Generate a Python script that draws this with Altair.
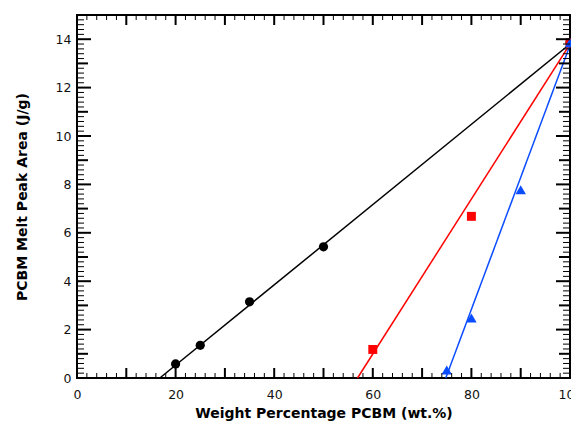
import altair as alt
import pandas as pd

# ---- data ----
black_x = [20, 25, 35, 50, 100]
black_y = [0.58, 1.35, 3.15, 5.42, 13.85]
red_x = [60, 80, 100]
red_y = [1.18, 6.68, 13.85]
blue_x = [75, 80, 90, 100]
blue_y = [0.33, 2.48, 7.78, 13.85]

# linear fits (end points of each fitted line)
black_fit_x = [16.8, 100]
black_fit_y = [0.0, 13.8]
red_fit_x = [56.9, 100]
red_fit_y = [0.0, 13.8]
blue_fit_x = [74.8, 100]
blue_fit_y = [0.0, 13.75]

x_labels = [0, 20, 40, 60, 80, 100]
y_labels = [0, 2, 4, 6, 8, 10, 12, 14]
x_major = [0, 10, 20, 30, 40, 50, 60, 70, 80, 90, 100]
x_minor = [v for v in range(0, 101, 2) if v % 10 != 0]
y_major = [0, 2, 4, 6, 8, 10, 12, 14]
y_mid = [1, 3, 5, 7, 9, 11, 13]
y_minor = [round(k * 0.2, 1) for k in range(0, 76) if k % 5 != 0]

W, H = 493, 363
FONT = "DejaVu Sans"

pts_black = pd.DataFrame({"x": black_x, "y": black_y})
pts_red = pd.DataFrame({"x": red_x, "y": red_y})
pts_blue = pd.DataFrame({"x": blue_x, "y": blue_y})
fit_black = pd.DataFrame({"x": black_fit_x, "y": black_fit_y})
fit_red = pd.DataFrame({"x": red_fit_x, "y": red_fit_y})
fit_blue = pd.DataFrame({"x": blue_fit_x, "y": blue_fit_y})

xs = alt.Scale(domain=[0, 100], nice=False, zero=False)
ys = alt.Scale(domain=[0, 15], nice=False, zero=False)

x_lab_axis = alt.Axis(
    orient="bottom", values=x_labels, ticks=False, tickSize=0, domain=False, grid=False,
    labelFont=FONT, labelFontSize=12.5, labelColor="#111", labelPadding=10,
    labelFlush=False, labelOverlap=False,
    title="Weight Percentage PCBM (wt.%)", titleFont=FONT, titleFontSize=14,
    titleFontWeight="bold", titleColor="black", titleX=W / 2, titleY=35,
    titleBaseline="middle", titleAlign="center", format="d",
)
y_lab_axis = alt.Axis(
    orient="left", values=y_labels, ticks=False, tickSize=0, domain=False, grid=False,
    labelFont=FONT, labelFontSize=12.5, labelColor="#111", labelPadding=6,
    labelFlush=False, labelOverlap=False,
    title="PCBM Melt Peak Area (J/g)", titleFont=FONT, titleFontSize=14,
    titleFontWeight="bold", titleColor="black", titleX=-55, titleY=H / 2,
    titleBaseline="middle", titleAlign="center", format="d",
)


def X():
    return alt.X("x:Q", scale=xs, axis=x_lab_axis)


def Y():
    return alt.Y("y:Q", scale=ys, axis=y_lab_axis)


layers = []
layers.append(alt.Chart(fit_black).mark_line(color="black", strokeWidth=1.5).encode(x=X(), y=Y()))
layers.append(alt.Chart(fit_red).mark_line(color="#ff0000", strokeWidth=1.5).encode(x=X(), y=Y()))
layers.append(alt.Chart(fit_blue).mark_line(color="#0a4cff", strokeWidth=1.5).encode(x=X(), y=Y()))
layers.append(alt.Chart(pts_black).mark_point(shape="circle", filled=True, opacity=1, color="black", size=85).encode(x=X(), y=Y()))
layers.append(alt.Chart(pts_red).mark_point(shape="square", filled=True, opacity=1, color="#ff0000", size=80).encode(x=X(), y=Y()))
layers.append(alt.Chart(pts_blue).mark_point(shape="triangle-up", filled=True, opacity=1, color="#0a4cff", size=110).encode(x=X(), y=Y()))

# inward tick marks on all four sides, positioned through the scales
for vals, size, sw in [(x_major, 10, 2), (x_minor, 5, 1)]:
    d = pd.DataFrame({"x": vals})
    layers.append(alt.Chart(d).mark_rule(color="black", strokeWidth=sw).encode(
        x=X(), y=alt.value(H), y2=alt.value(H - size)))
    layers.append(alt.Chart(d).mark_rule(color="black", strokeWidth=sw).encode(
        x=X(), y=alt.value(0), y2=alt.value(size)))
for vals, size, sw in [(y_major, 14, 2), (y_mid, 11, 2), (y_minor, 7, 1)]:
    d = pd.DataFrame({"y": vals})
    layers.append(alt.Chart(d).mark_rule(color="black", strokeWidth=sw).encode(
        y=Y(), x=alt.value(0), x2=alt.value(size)))
    layers.append(alt.Chart(d).mark_rule(color="black", strokeWidth=sw).encode(
        y=Y(), x=alt.value(W), x2=alt.value(W - size)))

chart = (
    alt.layer(*layers)
    .properties(
        width=W, height=H,
        padding={"left": 69, "top": 7, "right": 1, "bottom": 45},
        autosize=alt.AutoSizeParams(type="none"),
        background="white",
    )
    .configure_view(stroke="black", strokeWidth=2)
)

chart.save("out.html", embed_options={"renderer": "svg", "actions": False})
